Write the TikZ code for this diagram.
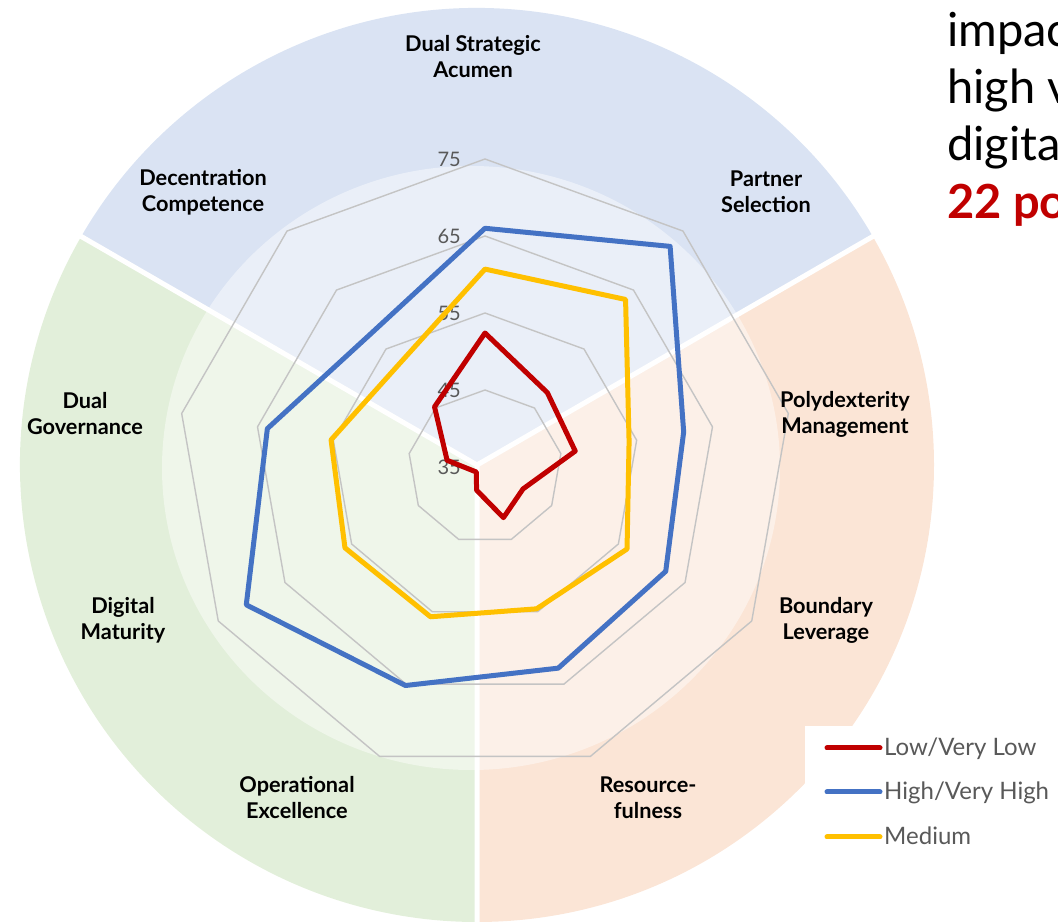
\documentclass[tikz,border=0pt]{standalone}
\usepackage{fontspec}
\setmainfont{Lato}
\definecolor{secblue}{HTML}{DAE3F3}
\definecolor{secgreen}{HTML}{E2EFDA}
\definecolor{secorange}{HTML}{FBE5D6}
\definecolor{gridgray}{HTML}{C4C4C4}
\definecolor{lowred}{HTML}{C00000}
\definecolor{highblue}{HTML}{4472C4}
\definecolor{medyellow}{HTML}{FFC000}
\definecolor{ticktext}{HTML}{595959}
\begin{document}
\begin{tikzpicture}[x=1pt,y=1pt,
  axislabel/.style={font=\fontsize{21.7}{26}\selectfont\bfseries, align=center, text=black, inner sep=0pt},
  ticklabel/.style={font=\fontsize{20}{24}\selectfont, text=ticktext, anchor=east, inner sep=0pt},
  gridline/.style={draw=gridgray, line width=1.4},
  series/.style={line width=5, line join=round},
  gapline/.style={draw=white, line width=5},
  legline/.style={line width=5, line cap=round},
  legtext/.style={font=\fontsize{24}{28}\selectfont, text=ticktext, anchor=base west, inner sep=0pt},
  titletext/.style={font=\fontsize{47}{57}\selectfont, anchor=base west, inner sep=0pt}
]
\useasboundingbox (0,0) rectangle (1058,924);
\clip (0,0) rectangle (1058,924);
\coordinate (S) at (477,459);
\coordinate (C) at (485,457);
\coordinate (L) at (471,456);
% sectors
\fill[secblue] (S) -- ++(30:457) arc[start angle=30,end angle=150,radius=457] -- cycle;
\fill[secgreen] (S) -- ++(150:457) arc[start angle=150,end angle=270,radius=457] -- cycle;
\fill[secorange] (S) -- ++(270:457) arc[start angle=270,end angle=390,radius=457] -- cycle;
\fill[white, opacity=0.45] (L) ellipse[x radius=309, y radius=302];
\draw[gapline] (S) -- ++(30:480) (S) -- ++(150:480) (S) -- ++(270:480);
% grid
\foreach \v in {45,55,65,75}{
  \draw[gridline, shift={(C)}] (90:{(\v-35)*7.7})
    -- (50:{(\v-35)*7.7}) -- (10:{(\v-35)*7.7}) -- (-30:{(\v-35)*7.7})
    -- (-70:{(\v-35)*7.7}) -- (-110:{(\v-35)*7.7}) -- (-150:{(\v-35)*7.7})
    -- (170:{(\v-35)*7.7}) -- (130:{(\v-35)*7.7}) -- cycle;
}
% tick labels
\foreach \v/\i in {35/0,45/1,55/2,65/3,75/4}
  \node[ticklabel] (tick\v) at (461,{457+77*\i}) {\v};
% series: medium
\draw[series, medyellow, shift={(C)}]
  (90:{(60.7-35)*7.7}) -- (50:{(63.4-35)*7.7}) -- (10:{(54.0-35)*7.7})
  -- (-30:{(56.3-35)*7.7}) -- (-70:{(54.6-35)*7.7}) -- (-110:{(55.7-35)*7.7})
  -- (-150:{(56.0-35)*7.7}) -- (170:{(55.3-35)*7.7}) -- (130:{(52.4-35)*7.7}) -- cycle;
% series: high
\draw[series, highblue, shift={(C)}]
  (90:{(66.0-35)*7.7}) -- (50:{(72.4-35)*7.7}) -- (10:{(61.2-35)*7.7})
  -- (-30:{(62.1-35)*7.7}) -- (-70:{(62.8-35)*7.7}) -- (-110:{(65.2-35)*7.7})
  -- (-150:{(70.8-35)*7.7}) -- (170:{(63.7-35)*7.7}) -- (130:{(57.8-35)*7.7}) -- cycle;
% series: low
\draw[series, lowred, shift={(C)}]
  (90:{(52.4-35)*7.7}) -- (50:{(47.6-35)*7.7}) -- (10:{(46.9-35)*7.7})
  -- (-30:{(40.7-35)*7.7}) -- (-70:{(42.0-35)*7.7}) -- (-110:{(38.2-35)*7.7})
  -- (-150:{(36.3-35)*7.7}) -- (170:{(40.0-35)*7.7}) -- (130:{(45.2-35)*7.7}) -- cycle;
% axis labels
\node[axislabel] (dsa) at (473,867) {Dual Strategic\\Acumen};
\node[axislabel] (ps) at (766,732) {Partner\\Selection};
\node[axislabel] (pm) at (845,510) {Polydexterity\\Management};
\node[axislabel] (bl) at (826,304) {Boundary\\Leverage};
\node[axislabel] (rf) at (648,126) {Resource-\\fulness};
\node[axislabel] (oe) at (297,126) {Operational\\Excellence};
\node[axislabel] (dm) at (123,304) {Digital\\Maturity};
\node[axislabel] (dg) at (85,510) {Dual\\Governance};
\node[axislabel] (dc) at (203,732) {Decentration\\Competence};
% legend
\fill[white] (805,0) rectangle (1058,198);
\node[legtext] (leglow) at (884,168) {Low/Very Low};
\node[legtext] (leghigh) at (884,124) {High/Very High};
\node[legtext] (legmed) at (884,79) {Medium};
\draw[legline, lowred] (827,176) -- (880,176);
\draw[legline, highblue] (827,132) -- (880,132);
\draw[legline, medyellow] (827,87) -- (880,87);
% title text
\node[titletext] (t1) at (947,877) {impac};
\node[titletext] (t2) at (947,820) {high v};
\node[titletext] (t3) at (947,763) {digita};
\node[titletext, text=lowred, font=\fontsize{47}{57}\selectfont\bfseries] (t4) at (947,705) {22 po};
\end{tikzpicture}
\end{document}
